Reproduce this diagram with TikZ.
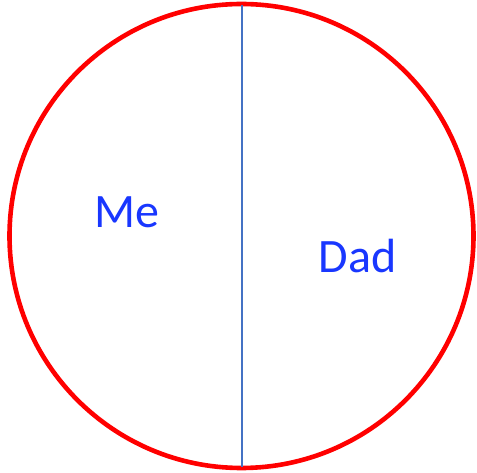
\documentclass[tikz,border=0pt]{standalone}
\usepackage{fontspec}
\setmainfont{Carlito}
\definecolor{ringred}{RGB}{255,0,0}
\definecolor{splitblue}{RGB}{68,114,196}
\definecolor{labelblue}{RGB}{25,55,255}
\tikzset{label text/.style={text=labelblue,font=\fontsize{48}{58}\selectfont,anchor=base,inner sep=0pt}}

\begin{document}
\begin{tikzpicture}[x=1pt,y=-1pt]
\useasboundingbox(0,0)rectangle(477,473);
\draw[ringred,line width=4.6pt](241.5,236)circle(232);
\coordinate(top)at(242,5);\coordinate(bottom)at(242,467);
\draw[splitblue,line width=1.3pt](top)--(bottom);
\node[label text](me)at(126.5,228){Me};
\node[label text](dad)at(357.5,273){Dad};
\end{tikzpicture}
\end{document}
